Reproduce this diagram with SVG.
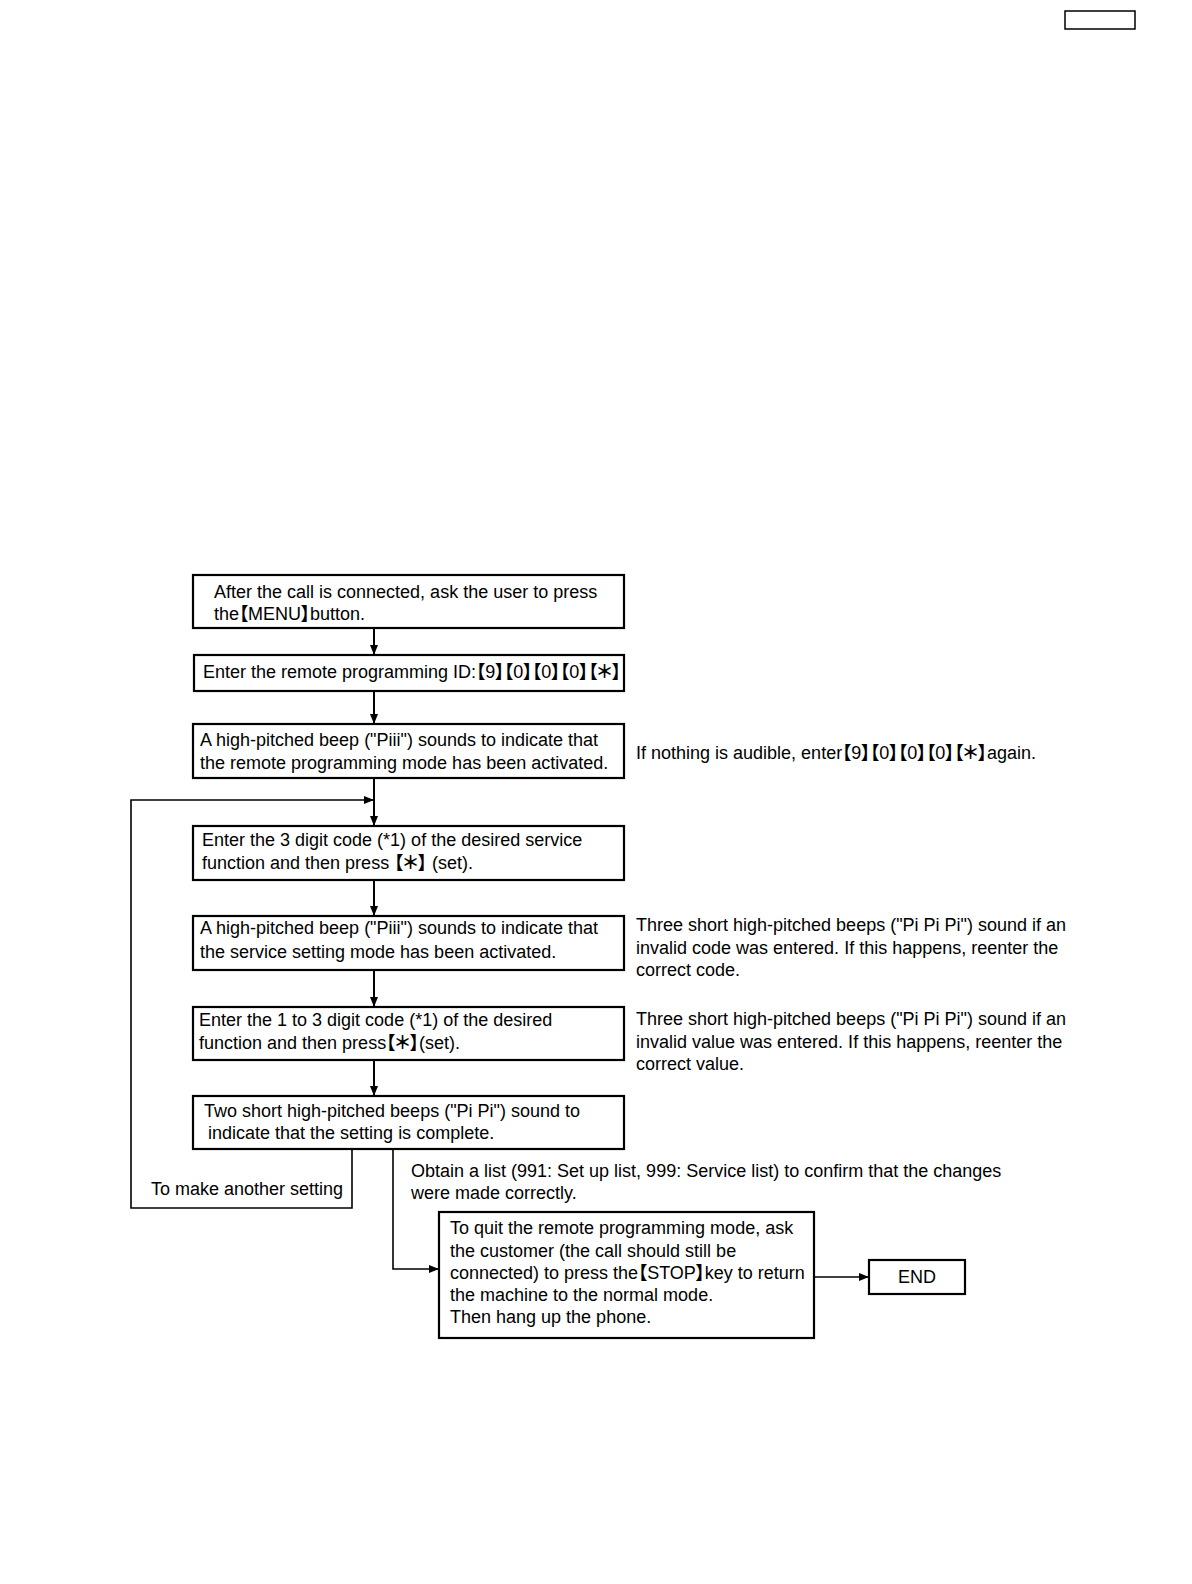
<svg xmlns="http://www.w3.org/2000/svg" width="1192" height="1584" viewBox="0 0 1192 1584">
<defs>
<marker id="ah" markerUnits="userSpaceOnUse" markerWidth="10" markerHeight="8" refX="10" refY="4" orient="auto">
<path d="M0,0 L10,4 L0,8 Z" fill="#000"/>
</marker>
<style>
.box{fill:#fff;stroke:#000;stroke-width:2.2}
.t{font-family:"Liberation Sans",Arial,"Noto Sans CJK JP",sans-serif;font-size:18px;fill:#000;text-spacing-trim:space-all}
.k{font-family:"Noto Sans CJK JP",sans-serif;font-weight:bold;font-feature-settings:"palt" 1}
.c{fill:none;stroke:#000;stroke-width:2}
.c1{fill:none;stroke:#000;stroke-width:1.6}
</style>
</defs>
<rect width="1192" height="1584" fill="#fff"/>
<g id="corner"><rect x="1065" y="11" width="70" height="18" fill="none" stroke="#000" stroke-width="1.5"/></g>
<g id="connectors">
<line class="c" x1="374" y1="628" x2="374" y2="655" marker-end="url(#ah)"/>
<line class="c" x1="374" y1="691" x2="374" y2="724" marker-end="url(#ah)"/>
<line class="c" x1="374" y1="778" x2="374" y2="826" marker-end="url(#ah)"/>
<line class="c" x1="374" y1="880" x2="374" y2="916" marker-end="url(#ah)"/>
<line class="c" x1="374" y1="970" x2="374" y2="1007" marker-end="url(#ah)"/>
<line class="c" x1="374" y1="1060" x2="374" y2="1096" marker-end="url(#ah)"/>
<polyline class="c1" points="352,1149 352,1208 131,1208 131,800 374,800" marker-end="url(#ah)"/>
<polyline class="c1" points="393,1149 393,1269 439,1269" marker-end="url(#ah)"/>
<line class="c1" x1="814" y1="1277" x2="869" y2="1277" marker-end="url(#ah)"/>
</g>
<g id="n1"><rect class="box" x="193" y="575" width="431" height="53"/>
<text class="t" x="214" y="598">After the call is connected, ask the user to press</text>
<text class="t" x="214" y="620">the<tspan class="k">【</tspan>MENU<tspan class="k">】</tspan>button.</text></g>
<g id="n2"><rect class="box" x="194" y="655" width="430" height="36"/>
<text class="t" x="203" y="678">Enter the remote programming ID:<tspan class="k">【</tspan>9<tspan class="k">】【</tspan>0<tspan class="k">】【</tspan>0<tspan class="k">】【</tspan>0<tspan class="k">】【＊】</tspan></text></g>
<g id="n3"><rect class="box" x="193" y="724" width="431" height="54"/>
<text class="t" x="200" y="746">A high-pitched beep ("Piii") sounds to indicate that</text>
<text class="t" x="200" y="769">the remote programming mode has been activated.</text></g>
<g id="note1"><text class="t" x="636" y="759">If nothing is audible, enter<tspan class="k">【</tspan>9<tspan class="k">】【</tspan>0<tspan class="k">】【</tspan>0<tspan class="k">】【</tspan>0<tspan class="k">】【＊】</tspan>again.</text></g>
<g id="n4"><rect class="box" x="193" y="826" width="431" height="54"/>
<text class="t" x="202" y="846">Enter the 3 digit code (*1) of the desired service</text>
<text class="t" x="202" y="869">function and then press <tspan class="k">【＊】</tspan> (set).</text></g>
<g id="n5"><rect class="box" x="193" y="916" width="431" height="54"/>
<text class="t" x="200" y="934">A high-pitched beep ("Piii") sounds to indicate that</text>
<text class="t" x="200" y="958">the service setting mode has been activated.</text></g>
<g id="note2">
<text class="t" x="636" y="931">Three short high-pitched beeps ("Pi Pi Pi") sound if an</text>
<text class="t" x="636" y="954">invalid code was entered. If this happens, reenter the</text>
<text class="t" x="636" y="976">correct code.</text></g>
<g id="n6"><rect class="box" x="193" y="1007" width="431" height="53"/>
<text class="t" x="199" y="1026">Enter the 1 to 3 digit code (*1) of the desired</text>
<text class="t" x="199" y="1049">function and then press<tspan class="k">【＊】</tspan>(set).</text></g>
<g id="note3">
<text class="t" x="636" y="1025">Three short high-pitched beeps ("Pi Pi Pi") sound if an</text>
<text class="t" x="636" y="1048">invalid value was entered. If this happens, reenter the</text>
<text class="t" x="636" y="1070">correct value.</text></g>
<g id="n7"><rect class="box" x="193" y="1096" width="431" height="53"/>
<text class="t" x="204" y="1117">Two short high-pitched beeps ("Pi Pi") sound to</text>
<text class="t" x="208" y="1139">indicate that the setting is complete.</text></g>
<g id="lbl-loop"><text class="t" x="151" y="1195">To make another setting</text></g>
<g id="lbl-list">
<text class="t" x="411" y="1177">Obtain a list (991: Set up list, 999: Service list) to confirm that the changes</text>
<text class="t" x="411" y="1199">were made correctly.</text></g>
<g id="n8"><rect class="box" x="439" y="1212" width="375" height="126"/>
<text class="t" x="450" y="1234">To quit the remote programming mode, ask</text>
<text class="t" x="450" y="1257">the customer (the call should still be</text>
<text class="t" x="450" y="1279">connected) to press the<tspan class="k">【</tspan>STOP<tspan class="k">】</tspan>key to return</text>
<text class="t" x="450" y="1301">the machine to the normal mode.</text>
<text class="t" x="450" y="1323">Then hang up the phone.</text></g>
<g id="end"><rect class="box" x="869" y="1260" width="96" height="34"/>
<text class="t" x="917" y="1283" text-anchor="middle">END</text></g>
</svg>
